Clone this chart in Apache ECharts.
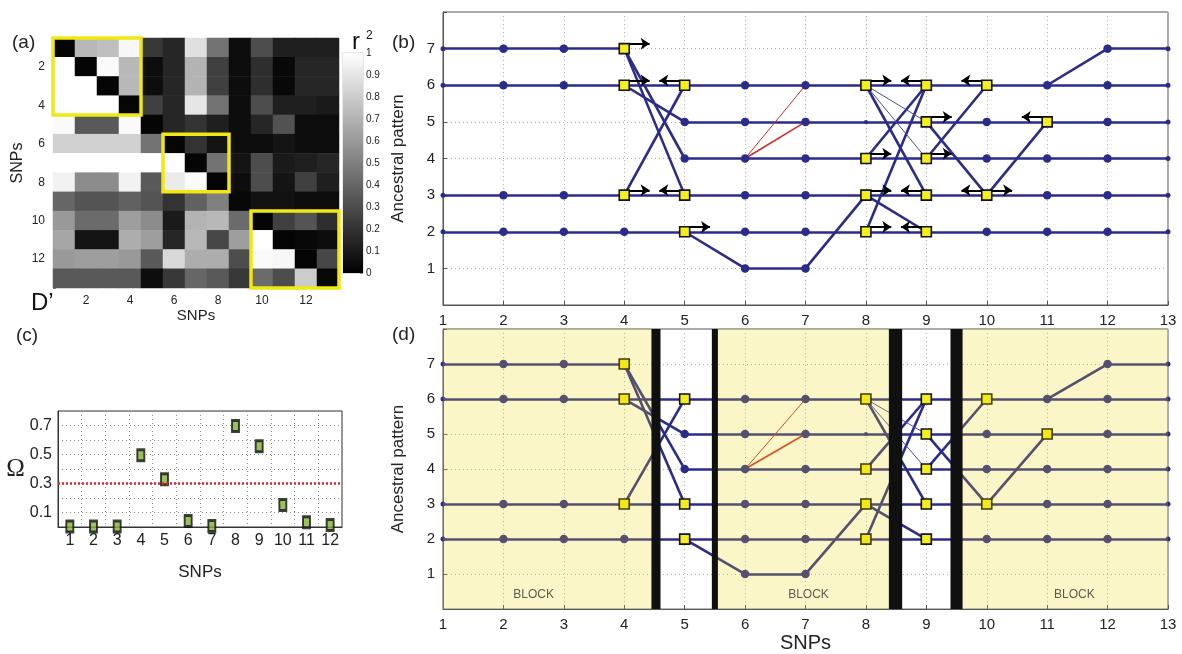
<!DOCTYPE html>
<html>
<head>
<meta charset="utf-8">
<script src="https://cdn.jsdelivr.net/npm/echarts/dist/echarts.min.js"></script>
<style>
html,body{margin:0;padding:0;background:#fff;}
#main{width:1182px;height:654px;}
</style>
</head>
<body>
<div id="main"></div>
<script>
// ---------------- DATA ----------------
const snps13 = ['1','2','3','4','5','6','7','8','9','10','11','12','13'];
// LD matrix (upper triangle r^2, lower triangle D'), rows top->bottom
const ldRow1  = [0.02,0.72,0.75,0.97,0.22,0.15,0.88,0.45,0.05,0.30,0.12,0.12,0.12];
const ldRow2  = [1.00,0.02,0.98,0.72,0.05,0.15,0.70,0.25,0.05,0.18,0.03,0.15,0.15];
const ldRow3  = [1.00,1.00,0.02,0.72,0.05,0.15,0.70,0.25,0.05,0.18,0.03,0.15,0.15];
const ldRow4  = [1.00,1.00,1.00,0.02,0.25,0.15,0.90,0.45,0.05,0.30,0.12,0.12,0.10];
const ldRow5  = [0.98,0.35,0.35,0.98,0.02,0.15,0.20,0.12,0.05,0.15,0.32,0.05,0.05];
const ldRow6  = [0.82,0.82,0.82,0.82,0.45,0.02,0.20,0.08,0.05,0.05,0.08,0.05,0.05];
const ldRow7  = [1.00,1.00,1.00,1.00,1.00,1.00,0.02,0.45,0.08,0.30,0.10,0.12,0.15];
const ldRow8  = [0.95,0.55,0.55,0.95,0.35,0.92,0.98,0.02,0.05,0.30,0.08,0.25,0.12];
const ldRow9  = [0.40,0.33,0.33,0.38,0.33,0.20,0.38,0.50,0.03,0.07,0.07,0.05,0.05];
const ldRow10 = [0.60,0.42,0.42,0.62,0.55,0.10,0.70,0.72,0.42,0.02,0.25,0.33,0.18];
const ldRow11 = [0.65,0.08,0.08,0.68,0.62,0.15,0.72,0.28,0.62,1.00,0.02,0.03,0.05];
const ldRow12 = [0.60,0.62,0.62,0.60,0.35,0.85,0.68,0.68,0.30,0.98,0.97,0.02,0.28];
const ldRow13 = [0.35,0.35,0.35,0.35,0.05,0.22,0.40,0.35,0.22,0.42,0.30,0.80,0.03];
const ldMatrix = [ldRow1,ldRow2,ldRow3,ldRow4,ldRow5,ldRow6,ldRow7,ldRow8,ldRow9,ldRow10,ldRow11,ldRow12,ldRow13];
const ldBlocks = [[1,4],[6,8],[10,13]];

const omegaSnps = ['1','2','3','4','5','6','7','8','9','10','11','12'];
const omegaValues = [0.003,0.003,0.003,0.495,0.33,0.042,0.007,0.697,0.557,0.151,0.033,0.014];
const omegaThreshold = 0.3;
const omegaTickLabels = ['0.1','0.3','0.5','0.7'];

const patternLevels = [1,2,3,4,5,6,7];
// [level, fromSnp, toSnp]
const patternRuns = [[7,1,4],[7,12,13],[6,1,13],[5,5,13],[4,5,13],[3,1,13],[2,1,13],[1,6,7]];
// [snpFrom, levelFrom, snpTo, levelTo]
const transitions = [[4,7,5,4],[4,7,5,3],[4,6,5,5],[4,3,5,6],[5,2,6,1],[7,1,8,3],
  [8,6,9,3],[8,4,9,6],[8,2,9,6],[8,3,9,2],[9,5,10,3],[9,4,10,6],[10,3,11,5],[11,6,12,7]];
const weakTransitions = [[8,6,9,5],[8,6,9,4]];
const redTransitions = [[6,4,7,6],[6,4,7,5]];
const hubs = [[4,7],[4,6],[4,3],[5,6],[5,3],[5,2],[8,6],[8,4],[8,3],[8,2],[9,6],[9,5],[9,4],[9,3],[9,2],[10,6],[10,3],[11,5]];
const minorNodes = [[8,5]];
const arrowsRight = [[4,7],[4,6],[4,3],[5,2],[8,6],[8,4],[8,3],[8,2],[9,5],[9,4],[10,3]];
const arrowsLeft = [[5,6],[5,3],[9,6],[9,3],[9,2],[10,6],[10,3],[11,5]];
const blockRanges = [[1,4.5],[5.5,8.5],[9.5,13]];
const blockBoundaries = [[4.45,4.6],[5.45,5.55],[8.38,8.6],[9.4,9.6]];
const blockLabels = ['BLOCK','BLOCK','BLOCK'];

// ---------------- HELPERS ----------------
const NAVY = '#2b2b8c';
const FONT = 'Liberation Sans, Arial, Helvetica, sans-serif';
const isHub = (x,y) => hubs.some(h => h[0]===x && h[1]===y);
const isMinor = (x,y) => minorNodes.some(h => h[0]===x && h[1]===y);

const heatData = [];
ldMatrix.forEach((row, r) => row.forEach((v, c) => heatData.push([c, r, v])));

const circleData = [];
patternRuns.forEach(r => { for (let x = r[1]; x <= r[2]; x++) if (!isHub(x, r[0])) circleData.push([x, r[0]]); });

function networkLines(){
  const d = [];
  patternRuns.forEach(r => d.push({coords:[[r[1],r[0]],[r[2],r[0]]], lineStyle:{width:2.6,color:NAVY,opacity:1}}));
  transitions.forEach(t => d.push({coords:[[t[0],t[1]],[t[2],t[3]]], lineStyle:{width:2.6,color:NAVY,opacity:1}}));
  weakTransitions.forEach(t => d.push({coords:[[t[0],t[1]],[t[2],t[3]]], lineStyle:{width:1,color:'#4c4ca6',opacity:1}}));
  redTransitions.forEach((t,i) => d.push({coords:[[t[0],t[1]],[t[2],t[3]]], lineStyle:{width:i===0?1:1.6,color:'#d52b2b',opacity:1}}));
  return d;
}

function networkSeries(ai){
  return [
    {type:'lines', coordinateSystem:'cartesian2d', xAxisIndex:ai, yAxisIndex:ai, polyline:false, z:2,
     symbol:'none', silent:true, data: networkLines()},
    {type:'scatter', xAxisIndex:ai, yAxisIndex:ai, z:3, symbol:'circle',
     symbolSize: v => (v[0]===1 || v[0]===13) ? 5 : (isMinor(v[0],v[1]) ? 4 : 8.5),
     itemStyle:{color:NAVY, opacity:1}, data: circleData},
    {type:'scatter', xAxisIndex:ai, yAxisIndex:ai, z:4, symbol:'rect', symbolSize:10,
     itemStyle:{color:'#f5ee1e', borderColor:'#111', borderWidth:1.6, opacity:1}, data: hubs}
  ];
}

function valueAxis(gi, showName, name, gap){
  return {
    type:'value', gridIndex:gi, min:1, max:13, interval:1,
    axisLine:{show:true, lineStyle:{color:'#555'}},
    axisTick:{show:true, inside:true, length:4, lineStyle:{color:'#555'}},
    axisLabel:{fontSize:15, color:'#222', fontFamily:FONT, margin:8},
    splitLine:{show:true, lineStyle:{color:'#b0b0b0', type:[1,3], width:1}},
    name: showName ? name : '', nameLocation:'middle', nameGap:gap,
    nameTextStyle:{fontSize:20, color:'#222', fontFamily:FONT}
  };
}
function levelAxis(gi){
  return {
    type:'value', gridIndex:gi, min:0, max:8, interval:1,
    axisLine:{show:true, lineStyle:{color:'#555'}},
    axisTick:{show:true, inside:true, length:4, lineStyle:{color:'#555'}},
    axisLabel:{fontSize:15, color:'#222', fontFamily:FONT, margin:8,
      formatter: v => patternLevels.includes(v) ? String(v) : ''},
    splitLine:{show:true, lineStyle:{color:'#b0b0b0', type:[1,3], width:1}},
    name:'Ancestral pattern', nameLocation:'middle', nameGap:36,
    nameTextStyle:{fontSize:17, color:'#222', fontFamily:FONT}
  };
}

// ---------------- OPTION ----------------
const option = {
  animation:false,
  backgroundColor:'#fff',
  textStyle:{fontFamily:FONT},
  grid:[
    {left:53, top:38, width:286, height:250},
    {left:343, top:53, width:20, height:220, show:true, borderColor:'#ccc', borderWidth:1},
    {left:58, top:411, width:284, height:116, show:true, borderColor:'#333', borderWidth:1},
    {left:443, top:12, width:725, height:293, show:true, borderColor:'#555', borderWidth:1},
    {left:443, top:329, width:725, height:292, show:true, borderColor:'#555', borderWidth:1}
  ],
  xAxis:[
    {type:'category', gridIndex:0, data:snps13, position:'bottom',
     axisLine:{show:false}, axisTick:{show:false},
     axisLabel:{fontSize:12, color:'#222', margin:7, interval:(i)=> i%2===1},
     splitLine:{show:false},
     name:'SNPs', nameLocation:'middle', nameGap:17, nameTextStyle:{fontSize:15, color:'#222'}},
    {type:'category', gridIndex:1, data:[''], show:false},
    {type:'category', gridIndex:2, data:omegaSnps, boundaryGap:true,
     axisLine:{show:true, lineStyle:{color:'#333'}}, axisTick:{show:false},
     axisLabel:{fontSize:16, color:'#222', margin:6},
     splitLine:{show:true, lineStyle:{color:'#888', type:[1,3]}},
     name:'SNPs', nameLocation:'middle', nameGap:37, nameTextStyle:{fontSize:17, color:'#222'}},
    valueAxis(3, false, '', 0),
    valueAxis(4, true, 'SNPs', 17)
  ],
  yAxis:[
    {type:'category', gridIndex:0, data:snps13, inverse:true,
     axisLine:{show:true, lineStyle:{color:'#a87a5c'}},
     axisTick:{show:true, inside:true, length:3, interval:(i)=> i%2===1, lineStyle:{color:'#a87a5c'}},
     axisLabel:{fontSize:12, color:'#222', margin:8, interval:(i)=> i%2===1},
     name:'SNPs', nameLocation:'middle', nameGap:27, nameTextStyle:{fontSize:16, color:'#222'}},
    {type:'value', gridIndex:1, min:0, max:1, interval:0.1, position:'right',
     axisLine:{show:false}, axisTick:{show:true, inside:true, length:3, lineStyle:{color:'#888'}},
     axisLabel:{fontSize:10, color:'#222', margin:3}, splitLine:{show:false}},
    {type:'value', gridIndex:2, min:0, max:0.8, interval:0.1,
     axisLine:{show:true, lineStyle:{color:'#333'}}, axisTick:{show:false},
     axisLabel:{fontSize:16, color:'#222', margin:6,
       formatter: v => omegaTickLabels.includes(v.toFixed(1)) ? v.toFixed(1) : ''},
     splitLine:{show:true, lineStyle:{color:'#888', type:[1,3]}},
     name:'Ω', nameLocation:'middle', nameGap:20, nameRotate:0,
     nameTextStyle:{fontSize:25, color:'#222', fontFamily:'Liberation Serif, Times New Roman, serif'}},
    levelAxis(3),
    levelAxis(4)
  ],
  visualMap:{show:false, type:'continuous', seriesIndex:0, dimension:2, min:0, max:1,
    inRange:{color:['#000000','#ffffff']}},
  graphic:[
    {type:'text', left:12, top:33, style:{text:'(a)', fontSize:19, fill:'#222', fontFamily:FONT}},
    {type:'text', left:392, top:33, style:{text:'(b)', fontSize:19, fill:'#222', fontFamily:FONT}},
    {type:'text', left:16, top:326, style:{text:'(c)', fontSize:19, fill:'#222', fontFamily:FONT}},
    {type:'text', left:392, top:325, style:{text:'(d)', fontSize:19, fill:'#222', fontFamily:FONT}},
    {type:'text', left:31, top:291, style:{text:'D\u2019', fontSize:24, fill:'#111', fontFamily:FONT}},
    {type:'text', left:352, top:30, style:{text:'r', fontSize:24, fill:'#111', fontFamily:FONT}},
    {type:'text', left:366, top:30, style:{text:'2', fontSize:12, fill:'#111', fontFamily:FONT}}
  ],
  series:[
    {type:'heatmap', xAxisIndex:0, yAxisIndex:0, data:heatData, itemStyle:{borderWidth:0}},
    {type:'custom', xAxisIndex:0, yAxisIndex:0, z:5, silent:true,
     data: ldBlocks.map(b => [b[0]-1, b[1]-1]),
     renderItem:(params, api) => {
       const s = api.value(0), e = api.value(1);
       const p0 = api.coord([s, s]), p1 = api.coord([e, e]);
       const sz = api.size([1, 1]);
       const x0 = Math.min(p0[0], p1[0]) - sz[0]/2, y0 = Math.min(p0[1], p1[1]) - sz[1]/2;
       return {type:'rect', shape:{x:x0, y:y0, width:Math.abs(p1[0]-p0[0])+sz[0], height:Math.abs(p1[1]-p0[1])+sz[1]},
               style:{fill:'none', stroke:'#f2e713', lineWidth:3.5}};
     }},
    {type:'bar', xAxisIndex:1, yAxisIndex:1, data:[1], barWidth:'100%', silent:true,
     itemStyle:{color:new echarts.graphic.LinearGradient(0,0,0,1,[{offset:0,color:'#ffffff'},{offset:1,color:'#000000'}])}},
    {type:'scatter', xAxisIndex:2, yAxisIndex:2, data:omegaValues, symbol:'rect', symbolSize:[7,11], z:4,
     itemStyle:{color:'#7fb236', borderColor:'#111', borderWidth:2.4},
     markLine:{silent:true, symbol:'none', label:{show:false},
       lineStyle:{color:'#e42424', type:[2,2], width:2.5},
       data:[{yAxis:omegaThreshold}]}},
    ...networkSeries(3),
    {type:'lines', coordinateSystem:'cartesian2d', xAxisIndex:3, yAxisIndex:3, z:5, polyline:false, silent:true,
     symbol:['none','arrow'], symbolSize:9, lineStyle:{color:'#000', width:2, opacity:1},
     data: arrowsRight.map(p => ({coords:[[p[0]+0.08, p[1]+0.13],[p[0]+0.42, p[1]+0.13]]}))
       .concat(arrowsLeft.map(p => ({coords:[[p[0]-0.08, p[1]+0.13],[p[0]-0.42, p[1]+0.13]]})))},
    ...networkSeries(4),
    {type:'custom', xAxisIndex:4, yAxisIndex:4, z:6, silent:true, data:blockRanges,
     renderItem:(params, api) => {
       const a = api.coord([api.value(0), 8]), b = api.coord([api.value(1), 0]);
       return {type:'rect', shape:{x:a[0], y:a[1], width:b[0]-a[0], height:b[1]-a[1]},
               style:{fill:'rgba(232,214,5,0.22)'}};
     }},
    {type:'custom', xAxisIndex:4, yAxisIndex:4, z:7, silent:true, data:blockBoundaries,
     renderItem:(params, api) => {
       const a = api.coord([api.value(0), 8]), b = api.coord([api.value(1), 0]);
       return {type:'rect', shape:{x:a[0], y:a[1], width:b[0]-a[0], height:b[1]-a[1]},
               style:{fill:'#101010'}};
     }},
    {type:'scatter', xAxisIndex:4, yAxisIndex:4, z:8, symbolSize:0, silent:true,
     data: blockLabels.map((t, i) => ({value:[[2.5, 7.05, 11.45][i], 0.42], name:t})),
     label:{show:true, position:'inside', formatter:p => p.name, fontSize:12, color:'#333', fontFamily:FONT}}
  ]
};

const chart = echarts.init(document.getElementById('main'));
chart.setOption(option);
</script>
</body>
</html>
